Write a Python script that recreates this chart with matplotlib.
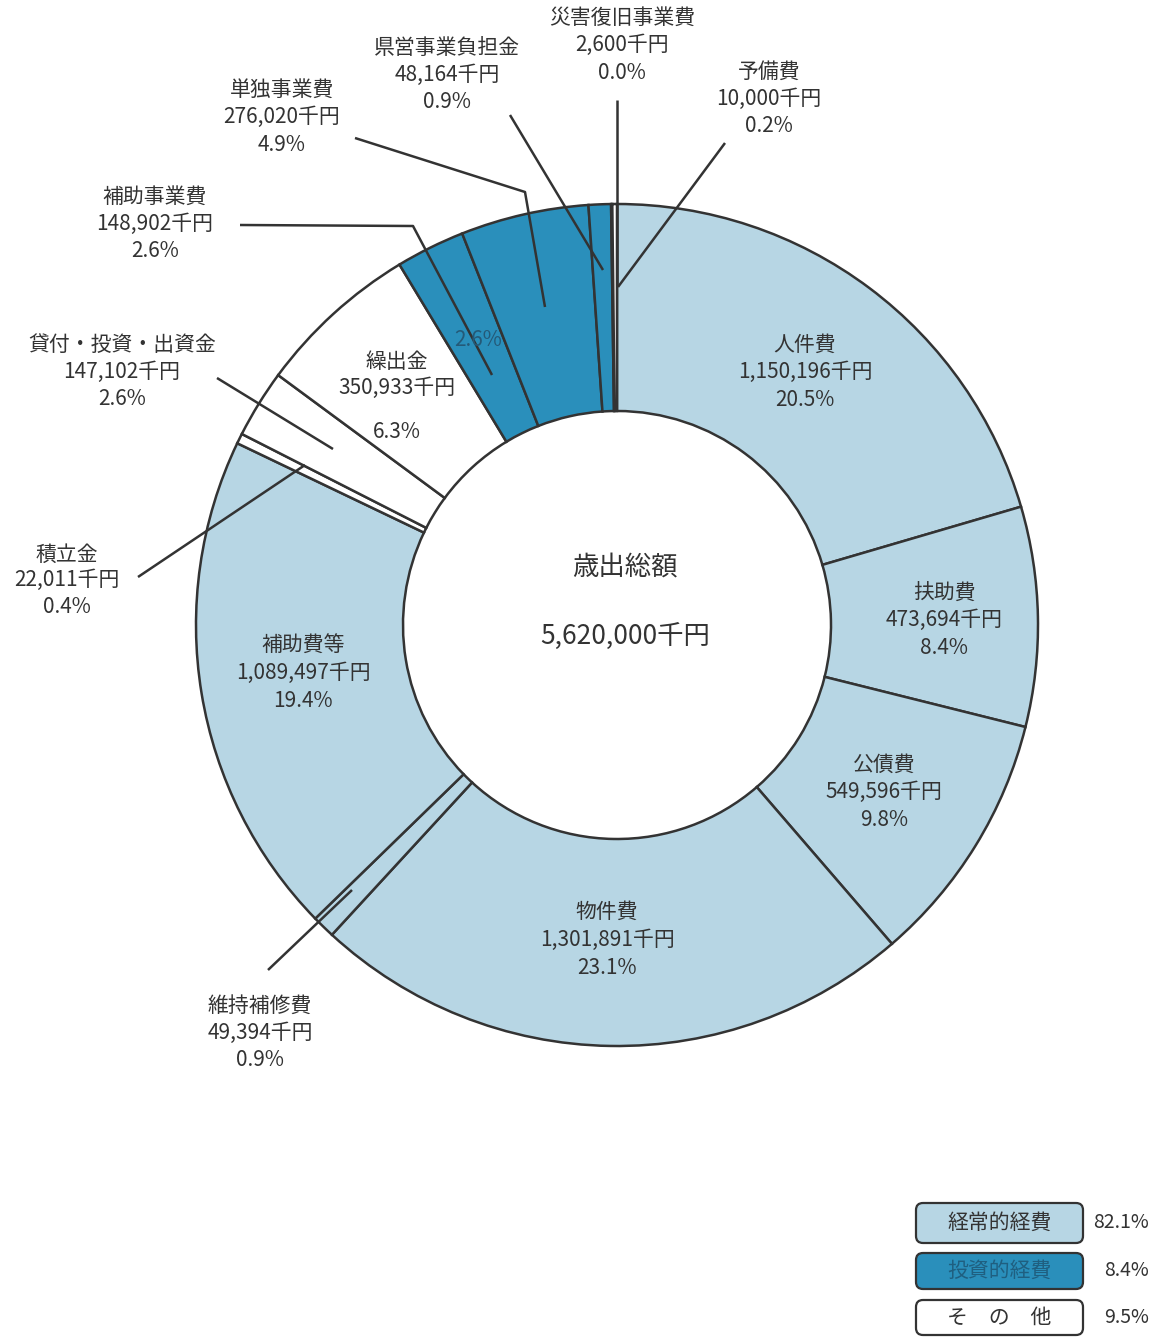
import matplotlib
matplotlib.use("Agg")
import matplotlib.pyplot as plt
from matplotlib.patches import FancyBboxPatch

plt.rcParams['font.family'] = ['Noto Sans CJK JP', 'DejaVu Sans']

# ---- data (clockwise from 12 o'clock) ----
categories = ["人件費", "扶助費", "公債費", "物件費", "維持補修費", "補助費等",
              "積立金", "貸付・投資・出資金", "繰出金",
              "補助事業費", "単独事業費", "県営事業負担金", "災害復旧事業費", "予備費"]
amounts = [1150196, 473694, 549596, 1301891, 49394, 1089497,
           22011, 147102, 350933,
           148902, 276020, 48164, 2600, 10000]
pct_labels = ["20.5%", "8.4%", "9.8%", "23.1%", "0.9%", "19.4%",
              "0.4%", "2.6%", "6.3%",
              "2.6%", "4.9%", "0.9%", "0.0%", "0.2%"]
groups = ["経常", "経常", "経常", "経常", "経常", "経常",
          "その他", "その他", "その他",
          "投資", "投資", "投資", "投資", "その他"]
total_label = "5,620,000千円"
legend_names = ["経常的経費", "投資的経費", "そ　の　他"]
legend_pcts = ["82.1%", "8.4%", "9.5%"]

# ---- style ----
W, H = 1158, 1337
C_LIGHT = "#b7d6e4"
C_DARK = "#2a8fbb"
C_OTHER = "#ffffff"
EDGE = "#333333"
TXT = "#333333"
group_color = {"経常": C_LIGHT, "投資": C_DARK, "その他": C_OTHER}
colors = [group_color[g] for g in groups]

fig = plt.figure(figsize=(W / 100, H / 100), dpi=100)
ax = fig.add_axes([0, 0, 1, 1])

def Y(y):
    return H - y

cx, cy, R, Rin = 617, 625, 421, 214
ax.pie(amounts, colors=colors, startangle=90, counterclock=False,
       radius=R, center=(cx, Y(cy)),
       wedgeprops=dict(width=R - Rin, edgecolor=EDGE, linewidth=1.8))
ax.set_xlim(0, W)
ax.set_ylim(0, H)
ax.set_aspect('equal')
ax.axis('off')

FS = 15

def label(x, ys, lines, color=TXT, fs=FS):
    for yy, s in zip(ys, lines):
        ax.text(x, Y(yy), s, ha='center', va='center', fontsize=fs, color=color, zorder=5)

# label positions (image pixel coordinates): name -> (x, [y1, y2, y3])
label_pos = {
    "人件費": (805, [345, 372, 400]),
    "扶助費": (944, [593, 620, 648]),
    "公債費": (884, [765, 792, 820]),
    "物件費": (607, [912, 940, 968]),
    "補助費等": (303, [646, 673, 701]),
    "繰出金": (397, [362, 388, 432]),
    "災害復旧事業費": (622, [18, 45, 73]),
    "予備費": (769, [72, 99, 126]),
    "県営事業負担金": (447, [48, 75, 102]),
    "単独事業費": (282, [90, 117, 145]),
    "補助事業費": (155, [197, 224, 251]),
    "貸付・投資・出資金": (122, [345, 372, 399]),
    "積立金": (67, [555, 580, 607]),
    "維持補修費": (260, [1006, 1033, 1060]),
}
for name, amt, pct in zip(categories, amounts, pct_labels):
    x, ys = label_pos[name]
    label(x, ys, [name, f"{amt:,}千円", pct])

# leftover label inside the investment segment
ax.text(478, Y(340), pct_labels[9], ha='center', va='center', fontsize=FS,
        color="#245a78", zorder=5)

# leader lines (image pixel coordinates)
leaders = [
    [(617, 100), (617, 285)],
    [(725, 143), (618, 287)],
    [(510, 115), (603, 270)],
    [(355, 138), (525, 192), (545, 307)],
    [(240, 225), (413, 226), (492, 375)],
    [(217, 378), (333, 449)],
    [(138, 577), (305, 465)],
    [(268, 970), (352, 890)],
]
for pts in leaders:
    ax.plot([p[0] for p in pts], [Y(p[1]) for p in pts], color=EDGE, lw=1.8,
            zorder=4, solid_capstyle='butt')

# center text
ax.text(cx + 8, Y(567), "歳出総額", ha='center', va='center', fontsize=19, color=TXT)
ax.text(cx + 8, Y(636), total_label, ha='center', va='center', fontsize=19, color=TXT)

# legend boxes
boxes = [(916, 1203, 1083, 1243), (916, 1253, 1083, 1289), (916, 1300, 1083, 1335)]
box_colors = [C_LIGHT, C_DARK, C_OTHER]
box_txt_colors = [TXT, "#1f5f80", TXT]
for (x0, y0, x1, y1), fc, tc, name, pct in zip(boxes, box_colors, box_txt_colors,
                                              legend_names, legend_pcts):
    p = FancyBboxPatch((x0, Y(y1)), x1 - x0, y1 - y0,
                       boxstyle="round,pad=0,rounding_size=7",
                       fc=fc, ec=EDGE, lw=1.6, zorder=3)
    ax.add_patch(p)
    ax.text((x0 + x1) / 2, Y((y0 + y1) / 2), name, ha='center', va='center',
            fontsize=15, color=tc, zorder=4)
    ax.text(1149, Y((y0 + y1) / 2), pct, ha='right', va='center',
            fontsize=14, color=TXT, zorder=4)

fig.savefig("out.png", dpi=100, facecolor='white')
